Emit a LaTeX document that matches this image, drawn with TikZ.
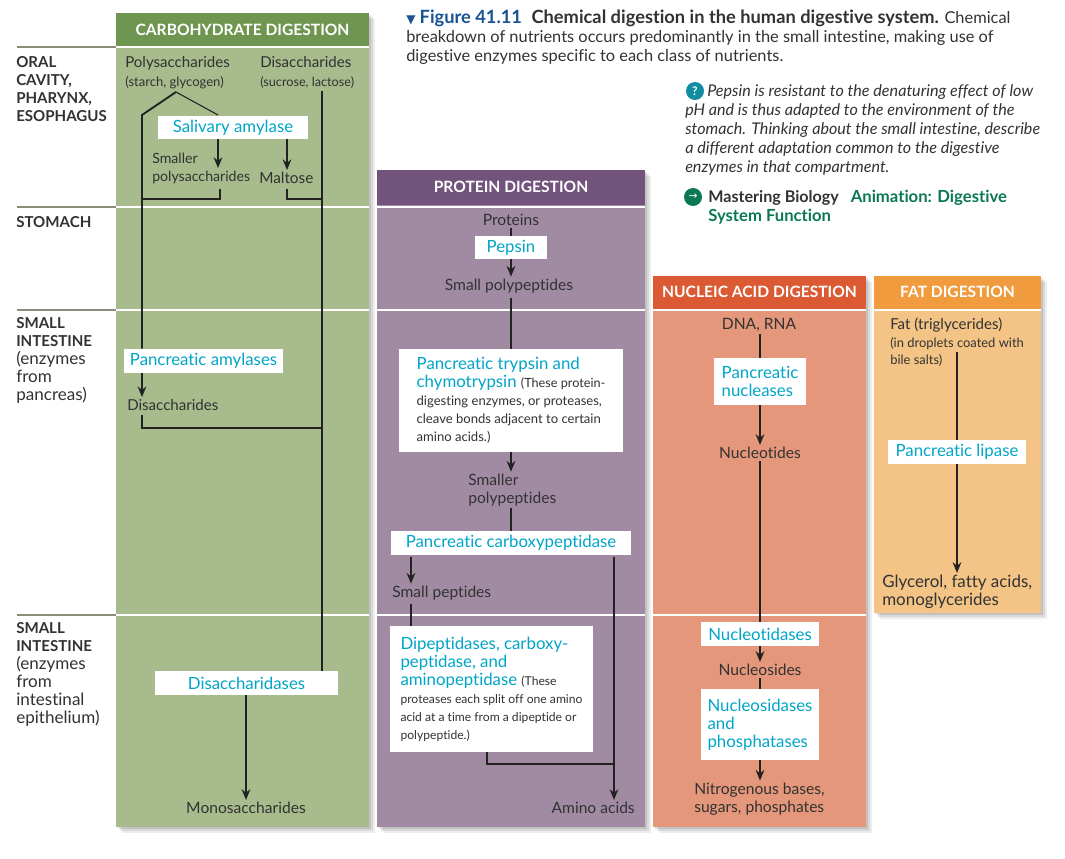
\documentclass[tikz,border=0pt]{standalone}
\usepackage{fontspec}
\setmainfont{Lato}[Ligatures=NoCommon]
\newfontfamily\symbolfont{DejaVu Sans}
\usepackage{xcolor}
\usetikzlibrary{arrows.meta, positioning, calc, shadows}
\definecolor{greenhead}{RGB}{111,150,80}
\definecolor{greenbody}{RGB}{167,187,140}
\definecolor{purplehead}{RGB}{114,83,124}
\definecolor{purplebody}{RGB}{160,139,163}
\definecolor{redhead}{RGB}{219,90,51}
\definecolor{redbody}{RGB}{228,151,122}
\definecolor{orangehead}{RGB}{240,156,62}
\definecolor{orangebody}{RGB}{243,196,134}
\definecolor{enzymeblue}{RGB}{0,165,200}
\definecolor{inktext}{RGB}{50,50,50}
\definecolor{inkline}{RGB}{34,34,34}
\definecolor{rulegrey}{RGB}{140,140,120}
\definecolor{figblue}{RGB}{24,84,146}
\definecolor{linkgreen}{RGB}{10,120,85}
\definecolor{askteal}{RGB}{18,140,160}
\tikzset{
    column/.style={
        drop shadow={shadow xshift=4.5pt, shadow yshift=-4.5pt, opacity=0.07, fill=black},
        drop shadow={shadow xshift=3pt, shadow yshift=-3pt, opacity=0.09, fill=black},
        drop shadow={shadow xshift=1.5pt, shadow yshift=-1.5pt, opacity=0.1, fill=black}
    },
    header/.style={
        rectangle,
        text=white,
        inner sep=0pt,
        font=\fontsize{11.7}{13}\selectfont\bfseries
    },
    region/.style={
        anchor=west,
        align=left,
        inner sep=0pt,
        text=inktext,
        font=\fontsize{12.8}{13.5}\selectfont
    },
    nutrient/.style={
        align=left,
        inner xsep=0pt,
        inner ysep=1.5pt,
        yshift=-0.75pt,
        text=inktext,
        font=\fontsize{11.7}{13.5}\selectfont
    },
    enzyme/.style={
        rectangle,
        fill=white,
        align=left,
        inner sep=0pt,
        text=enzymeblue,
        font=\fontsize{12.6}{13.5}\selectfont
    },
    flow/.style={
        draw=inkline,
        line width=1.4pt,
        -{Stealth[length=8pt,width=6.5pt]}
    },
    pipe/.style={
        draw=inkline,
        line width=1.4pt
    },
    thinpipe/.style={
        draw=inkline,
        line width=0.8pt
    },
    whiterule/.style={
        draw=white,
        line width=1.4pt
    },
    greyrule/.style={
        draw=rulegrey,
        line width=1.4pt
    }
}
\newcommand{\smalltext}{\fontsize{9.8}{13.5}\selectfont}
\newcommand{\tinytext}{\fontsize{9.1}{13.5}\selectfont}
\newcommand{\regionhead}[1]{{\fontsize{11.3}{13.5}\selectfont\textbf{#1}}}
\begin{document}
\begin{tikzpicture}[x=0.75pt, y=-0.75pt]
\useasboundingbox (0,0) rectangle (1065,859);

% Columns
\path[column, fill=greenbody] (116,13) rectangle (369,827);
\path[column, fill=purplebody] (377,170) rectangle (645,827);
\path[column, fill=redbody] (653,276) rectangle (866,827);
\path[column, fill=orangebody] (874,276) rectangle (1041,613);

% Column headers
\node[header, fill=greenhead, minimum width=189.75pt, minimum height=24.75pt] (carbhead) at (242.5,29.5) {CARBOHYDRATE DIGESTION};
\node[header, fill=purplehead, minimum width=201pt, minimum height=26.25pt] (prothead) at (511,187.5) {\raisebox{1.5pt}{PROTEIN DIGESTION}};
\node[header, fill=redhead, minimum width=159.75pt, minimum height=24.75pt] (nuclhead) at (759.5,292.5) {\raisebox{0.75pt}{NUCLEIC ACID DIGESTION}};
\node[header, fill=orangehead, minimum width=125.25pt, minimum height=24.75pt] (fathead) at (957.5,292.5) {\raisebox{0.75pt}{FAT DIGESTION}};

% Rules between the regions
\draw[greyrule] (17,47) -- (116,47) (17,207) -- (116,207) (17,310) -- (116,310) (17,615) -- (116,615);
\draw[whiterule] (116,47) -- (369,47) (116,207) -- (369,207) (116,310) -- (369,310) (116,615) -- (369,615);
\draw[whiterule] (377,207) -- (645,207) (377,310) -- (645,310) (377,615) -- (645,615);
\draw[whiterule] (653,310) -- (866,310) (653,615) -- (866,615);
\draw[whiterule] (874,310) -- (1041,310);

% Regions of the tract
\node[region] (oral) at (16,89) {\regionhead{ORAL}\\\regionhead{CAVITY,}\\\regionhead{PHARYNX,}\\\regionhead{ESOPHAGUS}};
\node[region] (stomach) at (16,222.5) {\regionhead{STOMACH}};
\node[region] (smallone) at (16,360.5) {\regionhead{SMALL}\\\regionhead{INTESTINE}\\(enzymes\\from\\pancreas)};
\node[region] (smalltwo) at (16,674.5) {\regionhead{SMALL}\\\regionhead{INTESTINE}\\(enzymes\\from\\intestinal\\epithelium)};

% Caption
\node[anchor=north west, align=left, inner sep=0pt, text=inktext, font=\fontsize{12.3}{14.25}\selectfont] (caption) at (406,10)
    {{\color{figblue}{\symbolfont\small ▼} {\fontsize{13.7}{14.25}\selectfont\textbf{Figure 41.11}}}\hspace{4pt} {\fontsize{13.7}{14.25}\selectfont\textbf{Chemical digestion in the human digestive system.}} Chemical\\
     breakdown of nutrients occurs predominantly in the small intestine, making use of\\
     digestive enzymes specific to each class of nutrients.};
\node[anchor=north west, align=left, inner sep=0pt, text=inktext, font=\fontsize{12.1}{14.25}\selectfont\itshape] (question) at (685,84)
    {\hspace*{16.5pt}Pepsin is resistant to the denaturing effect of low\\
     pH and is thus adapted to the environment of the\\
     stomach. Thinking about the small intestine, describe\\
     a different adaptation common to the digestive\\
     enzymes in that compartment.};
\node[circle, fill=askteal, text=white, inner sep=0pt, minimum size=13.5pt, font=\small\bfseries] (askmark) at (695,91) {?};
\node[anchor=north west, align=left, inner sep=0pt, text=linkgreen, font=\fontsize{12.1}{14.25}\selectfont\bfseries] (mastering) at (708,190)
    {{\color{inktext}Mastering Biology}\hspace{6pt} {\fontsize{12.5}{14.25}\selectfont Animation: Digestive}\\{\fontsize{12.5}{14.25}\selectfont System Function}};
\node[circle, fill=linkgreen, text=white, inner sep=0pt, minimum size=13.5pt, font=\symbolfont\footnotesize] (linkmark) at (693,197) {→};

% Carbohydrate digestion
\node[nutrient, anchor=north west, font=\fontsize{11.3}{13.5}\selectfont] (poly) at (125,53) {Polysaccharides\\[0.5pt]{\smalltext(starch, glycogen)}};
\node[nutrient, anchor=north west, font=\fontsize{11.3}{13.5}\selectfont] (disone) at (260,53) {Disaccharides\\[0.5pt]{\fontsize{9.5}{13.5}\selectfont(sucrose, lactose)}};
\node[enzyme, minimum width=112.5pt, minimum height=17.25pt] (salivary) at (233,127.5) {Salivary amylase};
\node[nutrient, anchor=west, font=\fontsize{10.6}{13.5}\selectfont] (smallerpoly) at (152,168) {Smaller\\polysaccharides};
\node[nutrient, anchor=west, font=\fontsize{11.5}{13.5}\selectfont] (maltose) at (259,177) {Maltose};
\node[enzyme, minimum width=119.25pt, minimum height=18pt] (amylases) at (203.5,361) {Pancreatic amylases};
\node[nutrient, anchor=west, font=\fontsize{11.3}{13.5}\selectfont] (distwo) at (127,404) {Disaccharides};
\node[enzyme, minimum width=137.25pt, minimum height=18pt] (disaccharidases) at (246.5,683) {Disaccharidases};
\node[nutrient] (mono) at (246,807) {Monosaccharides};

\coordinate (polyfork) at (176,92);
\coordinate (polybend) at (142,115);
\coordinate (salivaryin) at (218,115);
\coordinate (smallertip) at (218,168);
\coordinate (smallerout) at (220,189);
\coordinate (smallerjoin) at (142,199);
\coordinate (maltoseout) at (287,189);
\coordinate (maltosejoin) at (322,199);
\coordinate (disjoin) at (322,428);
\coordinate (distwoout) at (142,415);

\draw[pipe] (polyfork) -- (polybend) -- (amylases.north -| polybend);
\draw[thinpipe] (polyfork) -- (salivaryin);
\draw[flow] (salivary.south -| salivaryin) -- (smallertip);
\draw[flow] (salivary.south -| maltoseout) -- (maltose.north -| maltoseout);
\draw[thinpipe] (smallerout) |- (smallerjoin);
\draw[pipe] (maltoseout) |- (maltosejoin);
\draw[flow] (amylases.south -| polybend) -- (distwo.north -| polybend);
\draw[pipe] (distwoout) |- (disjoin);
\draw[pipe] (poly.south -| disjoin) -- (disaccharidases.north -| disjoin);
\draw[flow] (disaccharidases.south -| mono) -- (mono);

% Protein digestion
\node[nutrient] (proteins) at (511,219) {Proteins};
\node[enzyme, minimum width=54pt, minimum height=17.25pt] (pepsin) at (511,247.5) {Pepsin};
\node[nutrient] (smallpoly) at (509,285) {Small polypeptides};
\node[enzyme, minimum width=168pt, minimum height=77.25pt] (trypsin) at (511,400.5) {Pancreatic trypsin and\\chymotrypsin {\color{inktext}\fontsize{9.5}{13.5}\selectfont(These protein-}\\{\color{inktext}\smalltext digesting enzymes, or proteases,}\\{\color{inktext}\smalltext cleave bonds adjacent to certain}\\{\color{inktext}\smalltext amino acids.)}};
\node[nutrient, anchor=west] (smallerpep) at (468,489) {Smaller\\polypeptides};
\node[enzyme, minimum width=180pt, minimum height=18pt] (carboxy) at (511,543) {Pancreatic carboxypeptidase};
\node[nutrient, anchor=west] (smallpep) at (392,592) {Small peptides};
\node[enzyme, minimum width=152.25pt, minimum height=94.5pt] (dipept) at (491.5,689) {Dipeptidases, carboxy-\\peptidase, and\\aminopeptidase {\color{inktext}\tinytext(These}\\{\color{inktext}\tinytext proteases each split off one amino}\\{\color{inktext}\tinytext acid at a time from a dipeptide or}\\{\color{inktext}\tinytext polypeptide.)}};
\node[nutrient, anchor=east] (amino) at (635,807) {Amino acids};

\coordinate (proteinline) at (511,298);
\coordinate (peptideline) at (411,604);
\coordinate (aminoline) at (614,557);
\coordinate (dipeptout) at (487,752);
\coordinate (aminojoin) at (614,764);

\draw[pipe] (proteins.south -| pepsin) -- (pepsin);
\draw[flow] (pepsin) -- (smallpoly.north -| pepsin);
\draw[pipe] (proteinline) -- (trypsin);
\draw[flow] (trypsin) -- (smallerpep.north -| trypsin);
\draw[pipe] (smallerpep.south -| trypsin) -- (carboxy);
\draw[flow] (carboxy.south -| peptideline) ++(0,2) -- (smallpep.north -| peptideline);
\draw[pipe] (peptideline) -- (dipept.north -| peptideline);
\draw[flow] (aminoline) -- (amino.north -| aminoline);
\draw[pipe] (dipeptout) |- (aminojoin);

% Nucleic acid digestion
\node[nutrient] (dna) at (759,324) {DNA, RNA};
\node[enzyme, minimum width=69pt, minimum height=35.25pt] (nucleases) at (760,381.5) {Pancreatic\\nucleases};
\node[nutrient] (nucleotides) at (760,452) {Nucleotides};
\node[enzyme, minimum width=88.5pt, minimum height=18pt] (nucleotidases) at (760,634) {Nucleotidases};
\node[nutrient] (nucleosides) at (760,669) {Nucleosides};
\node[enzyme, minimum width=88.5pt, minimum height=53.25pt] (nucleosidases) at (760,724.5) {Nucleosidases\\and\\phosphatases};
\node[nutrient, anchor=west] (bases) at (694,798) {Nitrogenous bases,\\sugars, phosphates};

\draw[pipe] (dna.south -| nucleases) -- (nucleases);
\draw[flow] (nucleases) -- (nucleotides);
\draw[pipe] (nucleotides) -- (nucleotidases);
\draw[flow] (nucleotidases) -- (nucleosides);
\draw[pipe] (nucleosides) -- (nucleosidases);
\draw[flow] (nucleosidases) -- (bases.north -| nucleosidases);

% Fat digestion
\node[nutrient, anchor=north west, font=\fontsize{11.3}{13.5}\selectfont] (fat) at (890,315) {Fat (triglycerides)};
\node[nutrient, anchor=north west, font=\fontsize{9.7}{13}\selectfont] (droplets) at (890,334) {(in droplets coated with\\bile salts)};
\node[enzyme, minimum width=103.5pt, minimum height=18pt] (lipase) at (957,452) {Pancreatic lipase};
\node[nutrient, anchor=west, font=\fontsize{12.7}{13.5}\selectfont] (glycerol) at (882,591) {Glycerol, fatty acids,\\monoglycerides};

\coordinate (fatline) at (957,352);

\draw[pipe] (fatline) -- (lipase);
\draw[flow] (lipase) -- (glycerol.north -| lipase);

\end{tikzpicture}
\end{document}
